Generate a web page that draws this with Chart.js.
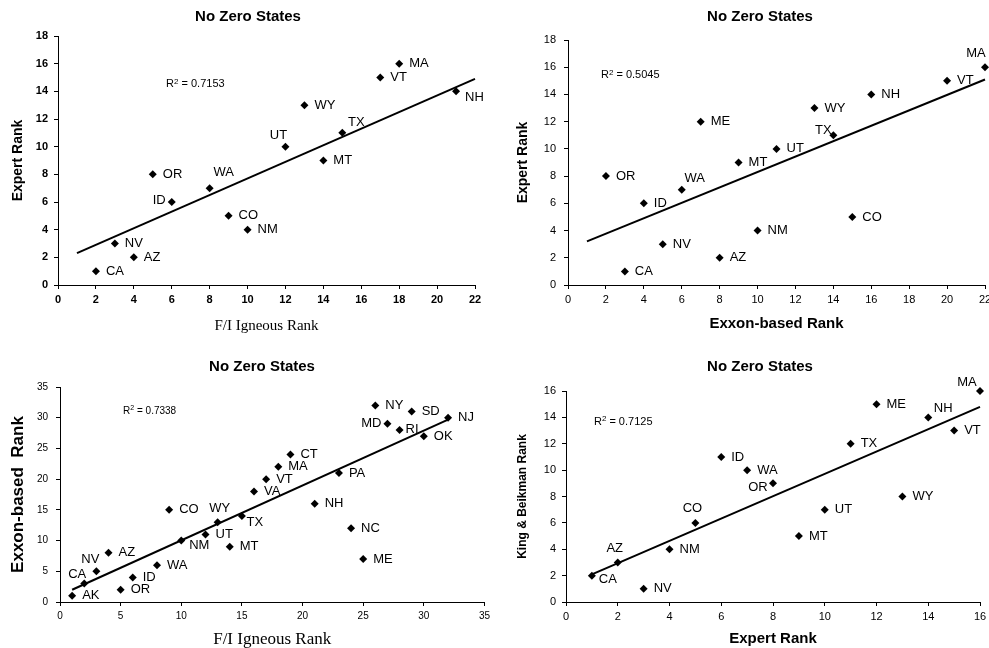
<!DOCTYPE html>
<html>
<head>
<meta charset="utf-8">
<title>No Zero States</title>
<script src="https://cdn.jsdelivr.net/npm/chart.js@4/dist/chart.umd.min.js"></script>
<style>
    html, body { margin: 0; padding: 0; background: #fff; overflow: hidden; }
    body { width: 989px; height: 648px; position: relative; }
    .panel { position: absolute; }
    #p1 { left: 0; top: 0; width: 494px; height: 335px; }
    #p2 { left: 494px; top: 0; width: 505px; height: 335px; }
    #p3 { left: 0; top: 335px; width: 494px; height: 320px; }
    #p4 { left: 494px; top: 335px; width: 505px; height: 320px; }
</style>
</head>
<body>
<div class="panel" id="p1"><canvas id="c1"></canvas></div>
<div class="panel" id="p2"><canvas id="c2"></canvas></div>
<div class="panel" id="p3"><canvas id="c3"></canvas></div>
<div class="panel" id="p4"><canvas id="c4"></canvas></div>
<script>
// Panel 1: F/I Igneous Rank vs Expert Rank
const states1 = ['CA', 'NV', 'AZ', 'OR', 'ID', 'WA', 'CO', 'NM', 'UT', 'WY', 'MT', 'TX', 'VT', 'MA', 'NH'];
const igneous1 = [2, 3, 4, 5, 6, 8, 9, 10, 12, 13, 14, 15, 17, 18, 21];
const expert1 = [1, 3, 2, 8, 6, 7, 5, 4, 10, 13, 9, 11, 15, 16, 14];
const trendX1 = [1, 22];
const trendY1 = [2.3, 14.9];

// Panel 2: Exxon-based Rank vs Expert Rank
const states2 = ['OR', 'CA', 'ID', 'NV', 'WA', 'ME', 'AZ', 'MT', 'NM', 'UT', 'WY', 'TX', 'CO', 'NH', 'VT', 'MA'];
const exxon2 = [2, 3, 4, 5, 6, 7, 8, 9, 10, 11, 13, 14, 15, 16, 20, 22];
const expert2 = [8, 1, 6, 3, 7, 12, 2, 9, 4, 10, 13, 11, 5, 14, 15, 16];
const trendX2 = [1, 22];
const trendY2 = [3.2, 15.1];

// Panel 3: F/I Igneous Rank vs Exxon-based Rank
const states3 = ['AK', 'CA', 'NV', 'AZ', 'OR', 'ID', 'WA', 'CO', 'NM', 'UT', 'WY', 'MT', 'TX', 'VA', 'VT', 'MA', 'CT', 'NH', 'PA', 'NC', 'ME', 'NY', 'MD', 'RI', 'SD', 'OK', 'NJ'];
const igneous3 = [1, 2, 3, 4, 5, 6, 8, 9, 10, 12, 13, 14, 15, 16, 17, 18, 19, 21, 23, 24, 25, 26, 27, 28, 29, 30, 32];
const exxon3 = [1, 3, 5, 8, 2, 4, 6, 15, 10, 11, 13, 9, 14, 18, 20, 22, 24, 16, 21, 12, 7, 32, 29, 28, 31, 27, 30];
const trendX3 = [1, 32];
const trendY3 = [2, 29.7];

// Panel 4: Expert Rank vs King & Beikman Rank
const states4 = ['CA', 'AZ', 'NV', 'NM', 'CO', 'ID', 'WA', 'OR', 'MT', 'UT', 'TX', 'ME', 'WY', 'NH', 'VT', 'MA'];
const expert4 = [1, 2, 3, 4, 5, 6, 7, 8, 9, 10, 11, 12, 13, 14, 15, 16];
const king4 = [2, 3, 1, 4, 6, 11, 10, 9, 5, 7, 12, 15, 8, 14, 13, 16];
const trendX4 = [1, 16];
const trendY4 = [2.1, 14.8];

const rSquared = ['0.7153', '0.5045', '0.7338', '0.7125'];

const SANS = '"Liberation Sans", Arial, Helvetica, sans-serif';
const SERIF = '"Liberation Serif", "Times New Roman", serif';

// Draw state names next to points and the R² note
const annotate = {
    id: 'annotate',
    afterDatasetsDraw(chart, args, opts) {
        const ctx = chart.ctx;
        const meta = chart.getDatasetMeta(0);
        ctx.save();
        ctx.fillStyle = '#000';
        ctx.textBaseline = 'middle';
        ctx.font = opts.labelFont;
        meta.data.forEach((pt, i) => {
            const name = opts.names[i];
            const off = opts.offsets[name] || [10, 0, 'left'];
            ctx.textAlign = off[2];
            ctx.fillText(name, pt.x + off[0], pt.y + off[1]);
        });

        // R² text
        const xs = chart.scales.x;
        const ys = chart.scales.y;
        const rx = xs.getPixelForValue(opts.r2At[0]);
        const ry = ys.getPixelForValue(opts.r2At[1]);
        ctx.font = opts.r2Font;
        ctx.textAlign = 'left';
        ctx.fillText('R', rx, ry);
        const w = ctx.measureText('R').width;
        ctx.font = opts.r2SupFont;
        ctx.fillText('2', rx + w, ry - 3);
        const w2 = ctx.measureText('2').width;
        ctx.font = opts.r2Font;
        ctx.fillText(' = ' + opts.r2, rx + w + w2, ry);
        ctx.restore();
    }
};

function makeChart(id, cfg) {
    return new Chart(document.getElementById(id), {
        type: 'scatter',
        data: {
            datasets: [{
                data: cfg.xs.map((x, i) => ({ x: x, y: cfg.ys[i] })),
                pointStyle: 'rectRot',
                pointRadius: 4,
                pointHoverRadius: 4,
                backgroundColor: '#000',
                borderColor: '#000',
                borderWidth: 0,
                clip: false
            }, {
                type: 'line',
                data: cfg.trendX.map((x, i) => ({ x: x, y: cfg.trendY[i] })),
                borderColor: '#000',
                borderWidth: 2,
                pointRadius: 0,
                fill: false,
                clip: false
            }]
        },
        options: {
            responsive: true,
            maintainAspectRatio: false,
            animation: false,
            events: [],
            layout: { padding: cfg.padding },
            plugins: {
                legend: { display: false },
                tooltip: { enabled: false },
                title: {
                    display: true,
                    text: 'No Zero States',
                    color: '#000',
                    font: { family: SANS, size: 15, weight: 'bold' },
                    padding: cfg.titlePad
                },
                annotate: {
                    names: cfg.names,
                    offsets: cfg.offsets,
                    labelFont: '13px ' + SANS,
                    r2: cfg.r2,
                    r2At: cfg.r2At,
                    r2Font: cfg.r2Size + 'px ' + SANS,
                    r2SupFont: (cfg.r2Size - 3) + 'px ' + SANS
                }
            },
            scales: {
                x: {
                    type: 'linear',
                    min: cfg.xMin, max: cfg.xMax,
                    afterFit: s => { s.height = cfg.xHeight; },
                    ticks: {
                        stepSize: cfg.xStep,
                        color: '#000',
                        padding: 4,
                        font: { family: SANS, size: cfg.tickSize, weight: cfg.tickWeight }
                    },
                    grid: { drawOnChartArea: false, tickLength: 4, color: '#000' },
                    border: { color: '#000', width: 1 },
                    title: {
                        display: true,
                        text: cfg.xTitle,
                        color: '#000',
                        font: cfg.xTitleFont,
                        padding: { top: 0, bottom: cfg.xTitlePad }
                    }
                },
                y: {
                    type: 'linear',
                    min: cfg.yMin, max: cfg.yMax,
                    afterFit: s => { s.width = cfg.yWidth; },
                    ticks: {
                        stepSize: cfg.yStep,
                        color: '#000',
                        padding: cfg.yTickPad,
                        font: { family: SANS, size: cfg.tickSize, weight: cfg.tickWeight }
                    },
                    grid: { drawOnChartArea: false, tickLength: 4, color: '#000' },
                    border: { color: '#000', width: 1 },
                    title: {
                        display: true,
                        text: cfg.yTitle,
                        color: '#000',
                        font: cfg.yTitleFont,
                        padding: { top: cfg.yTitlePad, bottom: 0 }
                    }
                }
            }
        },
        plugins: [annotate]
    });
}

makeChart('c1', {
    names: states1, xs: igneous1, ys: expert1, trendX: trendX1, trendY: trendY1,
    r2: rSquared[0], r2At: [5.7, 14.5], r2Size: 11,
    xMin: 0, xMax: 22, xStep: 2, yMin: 0, yMax: 18, yStep: 2,
    tickSize: 11, tickWeight: 'bold',
    padding: { left: 21, right: 19, top: 0, bottom: 0 },
    titlePad: { top: 8, bottom: 10 },
    yWidth: 37, yTickPad: 6, yTitlePad: -11.4,
    xHeight: 50, xTitlePad: 0,
    xTitle: 'F/I Igneous Rank',
    xTitleFont: { family: SERIF, size: 15, weight: 'normal' },
    yTitle: 'Expert Rank',
    yTitleFont: { family: SANS, size: 14, weight: 'bold' },
    offsets: {
        UT: [-7, -11, 'center'],
        WA: [14, -16, 'center'],
        TX: [14, -10, 'center'],
        ID: [-6, -2, 'right'],
        NH: [9, 6, 'left']
    }
});

makeChart('c2', {
    names: states2, xs: exxon2, ys: expert2, trendX: trendX2, trendY: trendY2,
    r2: rSquared[1], r2At: [1.74, 15.4], r2Size: 11,
    xMin: 0, xMax: 22, xStep: 2, yMin: 0, yMax: 18, yStep: 2,
    tickSize: 11, tickWeight: 'normal',
    padding: { left: 41, right: 14, top: 0, bottom: 0 },
    titlePad: { top: 8, bottom: 14 },
    yWidth: 33, yTickPad: 8, yTitlePad: -20.4,
    xHeight: 50, xTitlePad: 2,
    xTitle: 'Exxon-based Rank',
    xTitleFont: { family: SANS, size: 15, weight: 'bold' },
    yTitle: 'Expert Rank',
    yTitleFont: { family: SANS, size: 14, weight: 'bold' },
    offsets: {
        MA: [-9, -14, 'center'],
        TX: [-10, -5, 'center'],
        WA: [13, -11, 'center']
    }
});

makeChart('c3', {
    names: states3, xs: igneous3, ys: exxon3, trendX: trendX3, trendY: trendY3,
    r2: rSquared[2], r2At: [5.2, 31.1], r2Size: 10,
    xMin: 0, xMax: 35, xStep: 5, yMin: 0, yMax: 35, yStep: 5,
    tickSize: 10, tickWeight: 'normal',
    padding: { left: 37, right: 7, top: 0, bottom: 0 },
    titlePad: { top: 23, bottom: 11 },
    yWidth: 23, yTickPad: 8, yTitlePad: -29.2,
    xHeight: 53, xTitlePad: 5,
    xTitle: 'F/I Igneous Rank',
    xTitleFont: { family: SERIF, size: 17, weight: 'normal' },
    yTitle: 'Exxon-based  Rank',
    yTitleFont: { family: SANS, size: 17, weight: 'bold' },
    offsets: {
        NV: [-6, -12, 'center'],
        CA: [-7, -9, 'center'],
        WY: [2, -14, 'center'],
        TX: [13, 6, 'center'],
        NM: [18, 5, 'center'],
        MD: [-6, 0, 'right'],
        RI: [6, -1, 'left']
    }
});

makeChart('c4', {
    names: states4, xs: expert4, ys: king4, trendX: trendX4, trendY: trendY4,
    r2: rSquared[3], r2At: [1.08, 13.65], r2Size: 11,
    xMin: 0, xMax: 16, xStep: 2, yMin: 0, yMax: 16, yStep: 2,
    tickSize: 11, tickWeight: 'normal',
    padding: { left: 46, right: 19, top: 0, bottom: 0 },
    titlePad: { top: 23, bottom: 15 },
    yWidth: 26, yTickPad: 6, yTitlePad: -24.2,
    xHeight: 53, xTitlePad: 7,
    xTitle: 'Expert Rank',
    xTitleFont: { family: SANS, size: 15, weight: 'bold' },
    yTitle: 'King & Beikman Rank',
    yTitleFont: { family: SANS, size: 12, weight: 'bold' },
    offsets: {
        MA: [-13, -9, 'center'],
        NH: [15, -9, 'center'],
        CO: [-3, -14, 'center'],
        AZ: [-3, -14, 'center'],
        CA: [16, 4, 'center'],
        OR: [-15, 4, 'center']
    }
});
</script>
</body>
</html>
